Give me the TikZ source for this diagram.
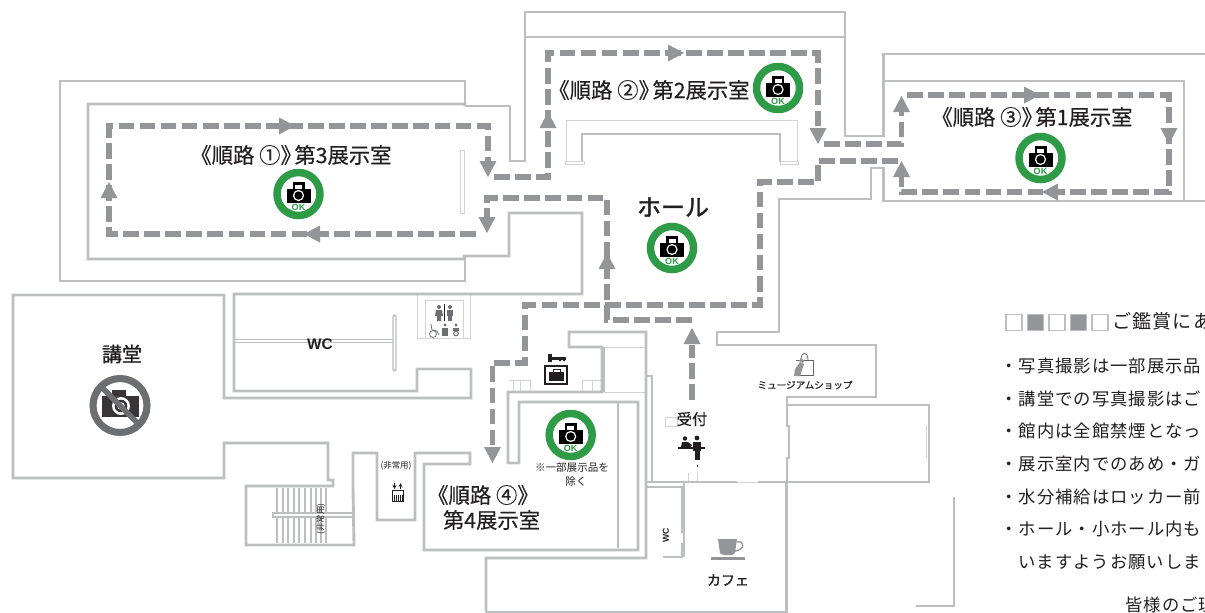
\documentclass[tikz,border=0pt]{standalone}
\usepackage{fontspec}
\setmainfont{Noto Sans CJK JP}
\newfontfamily\latinb{Liberation Sans}
\newfontfamily\bodyfont[LetterSpace=6]{Noto Sans CJK JP}
\newfontfamily\medfont[FakeBold=0.35]{Noto Sans CJK JP}
\newfontfamily\hallfont[FakeBold=1.4]{Noto Sans CJK JP}
\definecolor{wallc}{HTML}{BCBEC0}
\definecolor{routec}{HTML}{939598}
\definecolor{thinc}{HTML}{D1D3D4}
\definecolor{okgreen}{HTML}{2E9B47}
\definecolor{inkc}{HTML}{231F20}
\definecolor{banc}{HTML}{6D6E71}
\tikzset{
  wall/.style={draw=wallc,line width=2.15pt,line join=miter},
  thinwall/.style={draw=thinc,line width=0.7pt},
  midwall/.style={draw=wallc,line width=1.1pt},
  route/.style={draw=routec,line width=4.1pt,dash pattern=on 11.8pt off 4pt},
  lbl/.style={inner sep=0pt,text=inkc,font=\medfont\fontsize{16}{17}\selectfont},
  bodytext/.style={inner sep=0pt,anchor=west,text=inkc,font=\bodyfont\fontsize{13}{15}\selectfont},
  squareo/.style={draw=wallc,line width=1.2pt,fill=white},
  squaref/.style={draw=wallc,line width=1.2pt,fill=routec},
  head/.pic={\fill[routec] (0,0)--(-16,-8.5)--(-16,8.5)--cycle;},
  okcam/.pic={
    \draw[okgreen,line width=5.6pt] (0,0) circle[radius=21.5];
    \fill[black] (-12,-5) rectangle (12,8.5);
    \fill[black] (-6,-12) rectangle (6,-5);
    \fill[white] (-3.5,-9) rectangle (3.5,-5);
    \fill[white] (0,1.5) circle[radius=5.6];
    \fill[black] (0,1.5) circle[radius=4.2];
    \node[inner sep=0pt,text=okgreen,font=\latinb\bfseries\fontsize{6.8}{7}\selectfont] (-text) at (0,13.5) {OK};
  }
}
\newcommand{\closeq}{\kern-0.35em}
\begin{document}
\begin{tikzpicture}[x=0.75pt,y=-0.75pt]
\clip (0,0) rectangle (1205,612);
\fill[white] (0,0) rectangle (1205,612);

% ---- thin details
\draw[thinwall] (566,162)--(566,120)--(797,120)--(797,162);
\draw[midwall] (582,162)--(582,134)--(780,134)--(780,162);
\draw[thinwall] (565,161) rectangle (584,164);
\draw[thinwall] (780,161) rectangle (798,164);
\draw[thinwall] (460,150) rectangle (464,213);
\draw[midwall] (234,339.5)--(393,339.5) (234,342.5)--(393,342.5);
\draw[midwall,rounded corners=1pt] (393,315) rectangle (396,371);
\draw[thinwall] (417,295)--(417,338)--(470,338)--(470,295) (425,300)--(463,300)--(463,338) (425,300)--(425,338);
\draw[midwall] (646,376)--(652,376)--(652,482);
\draw[thinwall] (604,347)--(646,347) (604,392)--(646,392);
\draw[midwall] (604,347)--(604,392);
\draw[thinwall] (509,380)--(531,380) (582,380)--(602,380);
\draw[thinwall] (520,380)--(520,391) (530,380)--(530,391) (582,380)--(582,391) (592,380)--(592,391) (513,380)--(513,391);
\draw[thinwall] (665,417) rectangle (677,426);
\draw[thinwall] (688,473)--(688,482) (697,473)--(697,482);
\draw[midwall] (618,402)--(618,548);
\draw[thinwall] (737,482)--(758,482);
\draw[midwall] (684,482)--(684,557);
\draw[thinwall] (926,426)--(926,458) (929,426)--(929,458);
\draw[midwall] (954,497)--(954,606)--(916,606);
% stairs
\foreach \sx in {277,283,288,294,299,305,311,316,321,326}
  \draw[midwall] (\sx,488)--(\sx,543);
\draw[midwall,fill=white] (273,513) rectangle (353,517);

% ---- walls
\draw[wall] (465,106)--(465,81)--(60,81)--(60,281)--(465,281)--(465,256);
\draw[wall] (465,106)--(465,104)--(88,104)--(88,259)--(464,259)--(464,256)--(509,256)--(509,213)--(582,213)--(582,294)--(234,294)--(234,391)--(417,391)--(417,369)--(471,369)--(471,398)--(224,398)--(224,295)--(13,295)--(13,478)--(224,478)--(224,443)--(328,443)--(328,480)--(333,480)--(333,486)--(246,486)--(246,545)--(354,545)--(353,488)--(353,453)--(377,453)--(377,520)--(415,520)--(415,453)--(470,453)--(470,464)--(424,464)--(424,550)--(638,550)--(638,402)--(519,402)--(519,463)--(508,463)--(508,392)--(602,392)--(602,347)--(569,347)--(569,332)--(646,332)--(646,558)--(486,558)--(486,612);
\draw[wall] (465,106)--(510,106)--(510,161)--(525,161)--(525,12)--(845,12)--(845,136)--(883.5,136)--(883.5,54)--(1205,54);
\draw[wall,line width=1.5pt] (525,37)--(845,37);
\draw[wall,line width=1.5pt] (883.5,81)--(1183.5,81)--(1183.5,201);
\draw[wall] (1205,201)--(883.5,201)--(883.5,168)--(871,168)--(871,199)--(779,199)--(779,332)--(717,332)--(717,345)--(876,345)--(876,397)--(787,397)--(787,405)--(929,405)--(929,482)--(787,482)--(787,458)--(789,458)--(789,426)--(787,426)--(787,405);
\draw[wall] (647,482)--(737,482) (758,482)--(786,482);
\draw[wall] (786.5,482)--(786.5,612)--(486,612);
\draw[wall,line width=1.4pt] (647,487)--(682,487)--(682,533) (682,543)--(682,557)--(663,557);

% ---- routes
\draw[route] (476,234)--(109,234)--(109,126)--(488,126)--(488,165);
\draw[route] (494,177)--(548,177)--(548,53)--(818,53)--(818,132);
\draw[route] (824,144)--(901.5,144)--(901.5,110);
\draw[route] (907,95)--(1169,95)--(1169,192)--(901.5,192)--(901.5,175);
\draw[route] (898,161)--(818,161)--(818,182)--(760,182)--(760,305)--(525,305)--(525,363)--(492.5,363)--(492.5,448);
\draw[route] (692,400)--(692,345);
\draw[route] (692,320)--(607,320)--(607,198)--(487,198)--(487,219);

\pic[rotate=0]   at (295,126) {head};
\pic[rotate=180] at (304,234) {head};
\pic[rotate=90]  at (109,182) {head};
\pic[rotate=-90] at (488,177) {head};
\pic[rotate=90]  at (548,112) {head};
\pic[rotate=0]   at (684,53)  {head};
\pic[rotate=-90] at (818,144) {head};
\pic[rotate=90]  at (901.5,96) {head};
\pic[rotate=0]   at (1040,95) {head};
\pic[rotate=-90] at (1169,144) {head};
\pic[rotate=180] at (1042,192) {head};
\pic[rotate=90]  at (901.5,161) {head};
\pic[rotate=-90] at (487,233) {head};
\pic[rotate=90]  at (607,253) {head};
\pic[rotate=-90] at (492.5,463) {head};
\pic[rotate=90]  at (692,328) {head};

% ---- OK cameras
\pic (camA) at (298.5,194) {okcam};
\pic (camB) at (778,88) {okcam};
\pic (camC) at (1040.5,158) {okcam};
\pic (camD) at (672,248) {okcam};
\pic (camE) at (570.7,435) {okcam};

% ---- no photo
\fill[inkc!90!white] (102,396) rectangle (139,417);
\fill[inkc!90!white] (112,390) rectangle (126,396);
\fill[white] (121,406) circle[radius=9];
\fill[inkc!90!white] (121,406) circle[radius=6.3];
\fill[white] (121,406) circle[radius=3.8];
\draw[banc,line width=5.3pt] (120,405.5) circle[radius=27];
\draw[banc,line width=4pt] (101,386.5)--(139,424.5);

% ---- labels
\node[lbl] (room1) at (291,155) {《順路 ①》\closeq 第3展示室};
\node[lbl] (room2) at (649,90) {《順路 ②》\closeq 第2展示室};
\node[lbl] (room3) at (1032,117) {《順路 ③》\closeq 第1展示室};
\node[lbl] (room4a) at (483,495) {《順路 ④》};
\node[lbl] (room4b) at (491.5,520) {第4展示室};
\node[lbl,font=\hallfont\fontsize{18}{18}\selectfont] (hall) at (673,207) {ホール};
\node[lbl,font=\hallfont\fontsize{15}{16}\selectfont] (aud) at (122,354) {講堂};
\node[lbl,font=\latinb\bfseries\fontsize{11.5}{12}\selectfont] (wc1) at (320,344.5) {WC};
\node[lbl,font=\fontsize{7.9}{8}\selectfont] (note1) at (572,468) {※一部展示品を};
\node[lbl,font=\fontsize{7.9}{8}\selectfont] (note2) at (576,481) {除く};
\node[lbl,font=\medfont\fontsize{11.5}{12}\selectfont] (recep) at (692,419) {受付};
\node[lbl,font=\medfont\fontsize{7.2}{8}\selectfont] (shop) at (805,385) {ミュージアムショップ};
\node[lbl,font=\hallfont\fontsize{10.5}{12}\selectfont] (cafe) at (728,580) {カフェ};
\node[lbl,font=\latinb\bfseries\fontsize{6.5}{7}\selectfont,rotate=90] (wc2) at (666,535) {WC};
\node[lbl,font=\fontsize{6.3}{7}\selectfont] (ev1) at (396,466) {(非常用)};
\node[lbl,font=\fontsize{6.3}{7}\selectfont,rotate=90] (ev2) at (321,519) {(非常用)};

% ---- toilet pictograms
\fill[banc] (439,307) circle[radius=2];
\fill[banc] (436,310) -- (442,310) -- (443,316) -- (441,316) -- (441,321) -- (437,321) -- (437,316) -- (435,316) -- cycle;
\draw[inkc,line width=0.7pt] (444.5,304)--(444.5,321);
\fill[banc] (450,307) circle[radius=2];
\fill[banc] (447,310) rectangle (453,316);
\fill[banc] (448,316) rectangle (452,321);
\draw[banc,line width=0.6pt] (433,334) circle[radius=3.5];
\draw[banc,line width=0.6pt] (431,324)--(432,330)--(437,331)--(439,335);
\fill[banc] (445,325) circle[radius=1.7];
\fill[banc] (442,328) rectangle (448,336);
\fill[banc] (456,325) circle[radius=1.7];
\fill[banc] (453,328) rectangle (459,331);
\draw[banc,line width=0.8pt] (456,333.5) circle[radius=2.3];

% ---- key and locker
\fill[inkc] (548,354) rectangle (552,362);
\fill[inkc] (552,357) rectangle (566,359.5);
\fill[inkc] (559,359) rectangle (561,361) (563,359) rectangle (565,361);
\fill[inkc] (544,365) rectangle (568,385);
\fill[white] (546,367) rectangle (566,383);
\fill[inkc] (549,372) rectangle (564,381);
\draw[inkc,line width=0.7pt] (553,372)--(553,369.5)--(560,369.5)--(560,372);

% ---- reception pictogram
\fill[inkc] (678,447) rectangle (705,449);
\fill[inkc] (685,438.5) circle[radius=2.2];
\fill[inkc] (681,447) -- (682,442) -- (688,442) -- (692,445) -- (690,447) -- cycle;
\fill[inkc] (697,438) circle[radius=2.4];
\fill[inkc] (693,441.5) rectangle (701,451);
\fill[inkc] (694.5,451) rectangle (699.5,460);
\fill[inkc] (696.8,465) rectangle (697.3,467);

% ---- shop bag
\draw[inkc!70!white,line width=0.6pt] (796,360) -- (813,360) -- (813,375) -- (798,375);
\draw[inkc!70!white,line width=0.6pt] (801,360) .. controls (801,351) and (808,351) .. (808,360);
\fill[routec] (795,369) -- (800,362) -- (804,364) -- (800,376) -- (794,376) -- cycle;
\fill[routec] (801,358) -- (804,361) -- (806,357) -- (803,363) -- (799,361) -- cycle;

% ---- lift
\draw[inkc,line width=0.5pt] (392,490) rectangle (403,501);
\foreach \lx in {394,396,398,400,402} \draw[inkc,line width=0.5pt] (\lx,495)--(\lx,501);
\draw[inkc,line width=0.4pt,-stealth] (394.5,483)--(394.5,489);
\draw[inkc,line width=0.4pt,-stealth] (400.5,489)--(400.5,483);

% ---- coffee
\fill[routec] (718,539) -- (737,539) -- (735,553) .. controls (734,556) and (722,556) .. (720,553) -- cycle;
\draw[routec,line width=1pt] (737,542) .. controls (745,540) and (745,550) .. (735,551);
\fill[routec] (711,557) rectangle (745,560);

% ---- notes on the right
\node[squareo,minimum size=12pt,inner sep=0pt] (sq1) at (1014,322.5) {};
\node[squaref,minimum size=12pt,inner sep=0pt] (sq2) at (1035.5,322.5) {};
\node[squareo,minimum size=12pt,inner sep=0pt] (sq3) at (1057,322.5) {};
\node[squaref,minimum size=12pt,inner sep=0pt] (sq4) at (1078.5,322.5) {};
\node[squareo,minimum size=12pt,inner sep=0pt] (sq5) at (1100,322.5) {};
\node[bodytext,font=\bodyfont\fontsize{14.3}{16}\selectfont] (t0) at (1112,321) {ご鑑賞にあ};
\node[bodytext] (t1) at (1000,366) {・写真撮影は一部展示品};
\node[bodytext] (t2) at (1000,398.5) {・講堂での写真撮影はご};
\node[bodytext] (t3) at (1000,431) {・館内は全館禁煙となっ};
\node[bodytext] (t4) at (1000,464) {・展示室内でのあめ・ガ};
\node[bodytext] (t5) at (1000,497) {・水分補給はロッカー前};
\node[bodytext] (t6) at (1000,529) {・ホール・小ホール内も};
\node[bodytext] (t7) at (1018,562) {いますようお願いしま};
\node[bodytext] (t8) at (1125,605) {皆様のご理};
\end{tikzpicture}
\end{document}
